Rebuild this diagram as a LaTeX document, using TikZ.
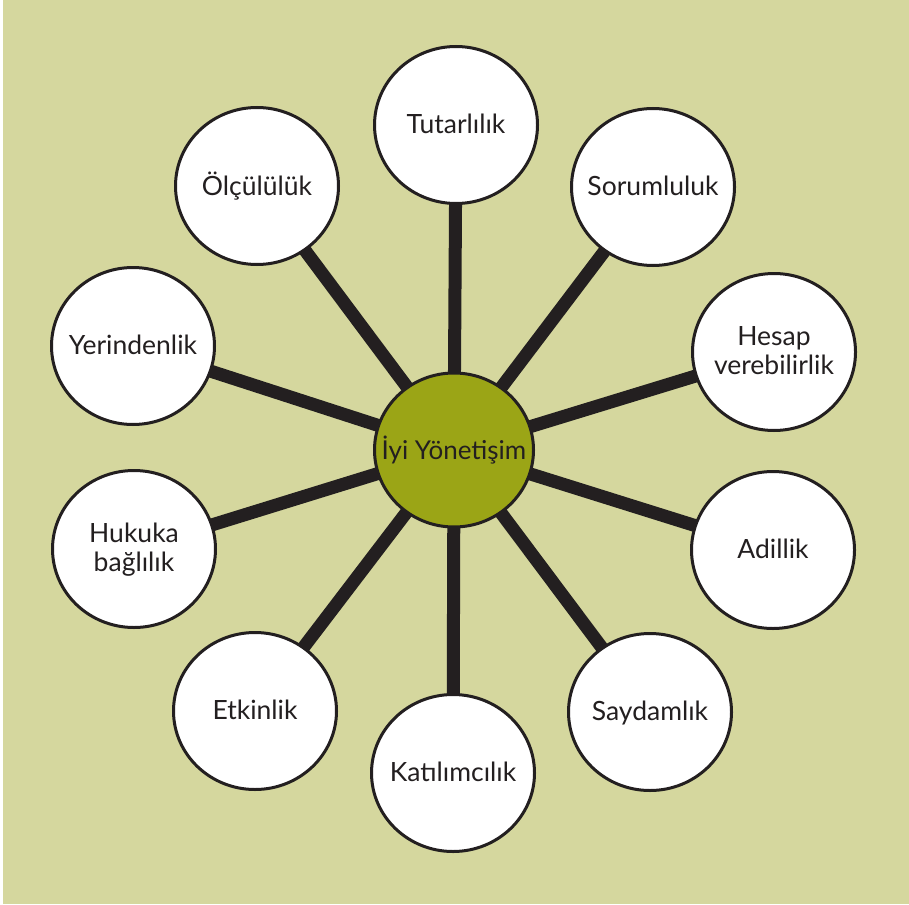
\documentclass[tikz,border=0pt]{standalone}
\usepackage{fontspec}
\setmainfont{Lato}
\usetikzlibrary{shapes.geometric}
\definecolor{bgcol}{RGB}{213,215,158}
\definecolor{olive}{RGB}{155,165,22}
\definecolor{dark}{RGB}{35,31,32}
\pgfdeclarelayer{bglayer}
\pgfdeclarelayer{spokelayer}
\pgfsetlayers{bglayer,spokelayer,main}
\newcommand\ctabu[1]{\begin{tabular}{@{}c@{}}#1\end{tabular}}
\newcommand\ctext[1]{\makebox[0pt]{\smash{\lower2.5pt\hbox{\ctabu{#1}}}}\vphantom{\ctabu{#1}}}
\tikzset{
  outer/.style={ellipse, draw=dark, line width=3pt, fill=white,
    minimum width=163pt, minimum height=157pt, inner sep=0pt,
    text=dark, font=\fontsize{26.5}{29}\selectfont},
  hub/.style={ellipse, draw=dark, line width=3pt, fill=olive,
    minimum width=159pt, minimum height=154pt, inner sep=0pt,
    text=dark, font=\fontsize{26}{29}\selectfont},
  spoke/.style={draw=dark, line width=13pt}
}
\begin{document}
\begin{tikzpicture}[x=1pt,y=-1pt]
\begin{pgfonlayer}{bglayer}
\fill[white] (0,0) rectangle (909,904);
\fill[bgcol] (3,0) rectangle (909,904);
\end{pgfonlayer}
\useasboundingbox (0,0) rectangle (909,904);
\node[hub] (c) at (454,450) {\ctext{İyi Yönetişim}};
\node[outer] (tut) at (456,125) {\ctext{Tutarlılık}};
\node[outer] (sor) at (653,187) {\ctext{Sorumluluk}};
\node[outer] (hes) at (774,352) {\ctext{Hesap\\verebilirlik}};
\node[outer] (adi) at (773,550) {\ctext{Adillik}};
\node[outer] (say) at (650,712) {\ctext{Saydamlık}};
\node[outer] (kat) at (453,773) {\ctext{Katılımcılık}};
\node[outer] (etk) at (255,711) {\ctext{Etkinlik}};
\node[outer] (huk) at (134,549) {\ctext{Hukuka\\bağlılık}};
\node[outer] (yer) at (133,346) {\ctext{Yerindenlik}};
\node[outer] (olc) at (257,186) {\ctext{Ölçülülük}};
\begin{pgfonlayer}{spokelayer}
\foreach \n in {tut,sor,hes,adi,say,kat,etk,huk,yer,olc}
  \draw[spoke] (c.center) -- (\n.center);
\end{pgfonlayer}
\end{tikzpicture}
\end{document}
